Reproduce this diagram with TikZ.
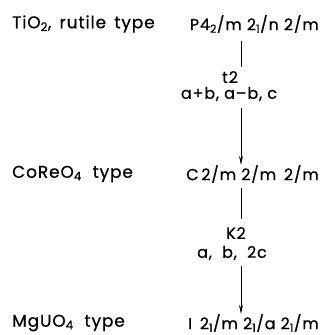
\documentclass[tikz,border=0pt]{standalone}
\usepackage{fontspec}
\setmainfont{Poppins}[LetterSpace=5, FakeBold=0.6]
\usetikzlibrary{arrows.meta}
\newcommand{\idx}[1]{\textsubscript{#1}}

\begin{document}
\begin{tikzpicture}[x=1pt, y=-1pt, font=\fontsize{17}{19}\selectfont,
  kind/.style={anchor=west, inner sep=0pt},
  group/.style={anchor=east, inner sep=0pt, font=\fontsize{16}{18}\selectfont},
  step label/.style={inner sep=0pt, font=\fontsize{16}{18}\selectfont},
  link/.style={line width=0.9pt},
  arrow/.style={line width=0.9pt, -{Stealth[length=9pt, width=4pt]}}]

  \useasboundingbox (0,0) rectangle (322,335);
  \coordinate (axis) at (241,0);

  % Structure types
  \node[kind] (K1) at (12,24) {TiO\idx{2}, \,rutile \,type};
  \node[kind] (K2) at (12,174) {CoReO\idx{4} \ type};
  \node[kind] (K3) at (12,323) {MgUO\idx{4} \ type};

  % Space groups
  \node[group] (G1) at (319,24) {P4\idx{2}/m 2\idx{1}/n 2/m};
  \node[group] (G2) at (319,174) {C\,2/m 2/m \,2/m};
  \node[group] (G3) at (319,323) {I \,2\idx{1}/m 2\idx{1}/a 2\idx{1}/m};

  % Subgroup steps
  \node[step label] (S1) at (230,77) {t2};
  \node[step label] (B1) at (229,94) {a+b, a--b, c};
  \node[step label] (S2) at (236,233) {K2};
  \node[step label] (B2) at (232,253) {a, \ b, \ 2c};

  % Connectors
  \draw[link, shorten <=8pt, shorten >=4pt] (G1.south -| axis) -- (S1.north -| axis);
  \draw[arrow, shorten <=7pt] (B1.south -| axis) -- (G2.north -| axis);
  \draw[link, shorten <=5pt, shorten >=8pt] (G2.south -| axis) -- (S2.north -| axis);
  \draw[arrow, shorten <=6pt] (B2.south -| axis) -- (G3.north -| axis);

\end{tikzpicture}
\end{document}
